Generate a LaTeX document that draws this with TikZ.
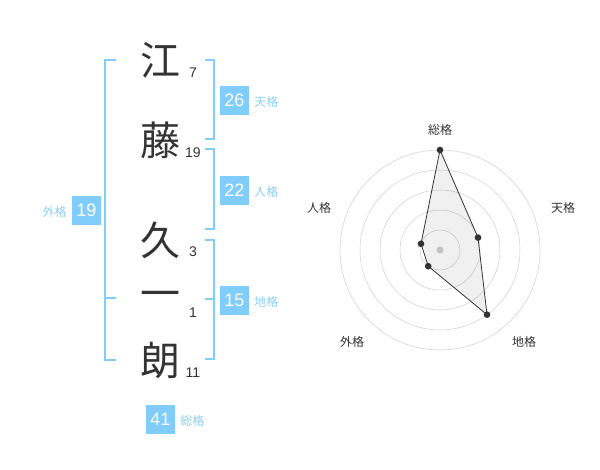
\documentclass[tikz,border=0pt]{standalone}
\usepackage{fontspec}
\setmainfont{Liberation Sans}
\newfontfamily\jpfont{Noto Sans CJK JP}
\usepackage{tikz}

\definecolor{kakublue}{HTML}{80CCFA}
\definecolor{kakutext}{HTML}{8ACFF7}
\definecolor{inkgray}{HTML}{333333}
\definecolor{ringgray}{HTML}{D0D0D0}

\tikzset{
  kanji/.style={inner sep=0pt,text=inkgray,font=\jpfont\fontsize{30}{30}\selectfont},
  stroke/.style={inner sep=0pt,text=inkgray,font=\fontsize{10.5}{10.5}\selectfont},
  kakubox/.style={fill=kakublue,text=white,minimum width=21.75pt,minimum height=21.75pt,inner sep=0pt,font=\fontsize{13.5}{13.5}\selectfont},
  kakuname/.style={inner sep=0pt,text=kakutext,font=\jpfont\fontsize{9}{9}\selectfont},
  bracket/.style={draw=kakublue,line width=1.5pt},
  ring/.style={draw=ringgray,line width=0.4pt},
  axisname/.style={inner sep=0pt,text=inkgray,font=\jpfont\fontsize{9}{9}\selectfont},
  dot/.style={circle,fill=inkgray,inner sep=0pt,minimum size=5pt}
}

\begin{document}
\begin{tikzpicture}[x=0.75pt,y=0.75pt,yscale=-1,xscale=1]
\path[use as bounding box] (0,0) rectangle (600,470);

% Text Node
\node[kanji] (k1) at (160,60) {江};
\node[kanji] (k2) at (160,140) {藤};
\node[kanji] (k3) at (160,240) {久};
\node[kanji] (k4) at (160,300) {一};
\node[kanji] (k5) at (160,360) {朗};
% Text Node
\node[stroke] (s1) at (193,73) {7};
\node[stroke] (s2) at (193,153) {19};
\node[stroke] (s3) at (193,252) {3};
\node[stroke] (s4) at (193,313) {1};
\node[stroke] (s5) at (193,373) {11};

%Straight Lines: outer bracket
\draw[bracket] (116,60) -- (105,60) -- (105,360) -- (116,360) ;
\draw[bracket] (105,298) -- (116,298) ;
%Straight Lines: right brackets
\draw[bracket] (205,60) -- (214,60) -- (214,139) -- (205,139) ;
\draw[bracket] (205,149) -- (214,149) -- (214,229) -- (205,229) ;
\draw[bracket] (205,240) -- (214,240) -- (214,359) -- (205,359) ;
\draw[bracket] (205,299) -- (214,299) ;

% Text Node
\node[kakubox] (ten) at (234.5,100.5) {26};
\node[kakuname,anchor=west] (tenl) at (254,102) {天格};
\node[kakubox] (jin) at (234.5,190.5) {22};
\node[kakuname,anchor=west] (jinl) at (254,192) {人格};
\node[kakubox] (chi) at (234.5,300.5) {15};
\node[kakuname,anchor=west] (chil) at (254,302) {地格};
\node[kakubox] (gai) at (86.5,210.5) {19};
\node[kakuname,anchor=east] (gail) at (67,212) {外格};
\node[kakubox] (sou) at (160.5,419) {41};
\node[kakuname,anchor=west] (soul) at (180,421) {総格};

%Shape: Circle rings
\foreach \r in {20,40,60,80,100}
  \draw[ring] (440,250) circle [radius=\r] ;
\fill[ringgray] (440,250) circle [radius=3.5] ;

% radar values
\coordinate (psou) at (440,150) ;
\coordinate (pten) at (478,237.6) ;
\coordinate (pchi) at (487,314.7) ;
\coordinate (pgai) at (428.2,266.2) ;
\coordinate (pjin) at (421,243.8) ;
\draw[draw=inkgray,fill=black,fill opacity=0.06,line width=0.6pt] (psou) -- (pten) -- (pchi) -- (pgai) -- (pjin) -- cycle ;
\foreach \p in {psou,pten,pchi,pgai,pjin}
  \node[dot] at (\p) {};

% Text Node
\node[axisname] (asou) at (440,130) {総格};
\node[axisname] (aten) at (563,208) {天格};
\node[axisname] (achi) at (524,342) {地格};
\node[axisname] (agai) at (352,342) {外格};
\node[axisname] (ajin) at (319,208) {人格};

\end{tikzpicture}
\end{document}
